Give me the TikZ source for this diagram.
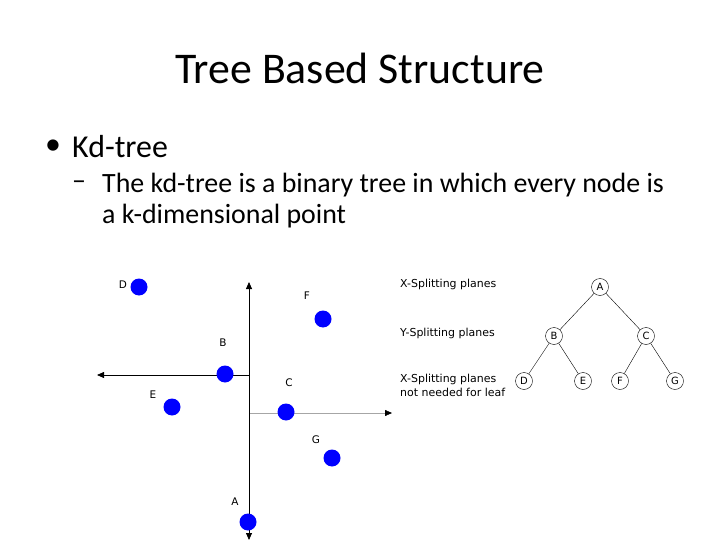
\documentclass[tikz,border=0pt]{standalone}
\usepackage{fontspec}
\setmainfont{Carlito}
\newfontfamily\djsans{DejaVu Sans}
\usetikzlibrary{arrows.meta}
\begin{document}
\begin{tikzpicture}[x=1bp,y=-1bp,
  pt/.style={circle,fill=blue,inner sep=0pt,minimum size=17bp},
  lbl/.style={font=\djsans\fontsize{10.5}{12}\selectfont,inner sep=0pt},
  tn/.style={circle,draw,inner sep=0pt,minimum size=17bp,font=\djsans\fontsize{10}{12}\selectfont},
  side/.style={font=\djsans\fontsize{11}{14}\selectfont,anchor=west,align=left,inner sep=0pt},
  ax/.style={thick,-{Triangle[length=7bp,width=6bp]}}]
\useasboundingbox (0,0) rectangle (720,540);
\node[font=\fontsize{44}{50}\selectfont] (title) at (360,68) {Tree Based Structure};
\node[anchor=west,inner sep=0pt,font=\fontsize{32}{36}\selectfont] (bul) at (45,147) {•};
\node[anchor=west,inner sep=0pt,font=\fontsize{32}{36}\selectfont] (b1) at (72,147) {Kd-tree};
\node[anchor=west,inner sep=0pt,font=\fontsize{28}{32}\selectfont] (dash) at (72,185) {–};
\node[anchor=west,inner sep=0pt,font=\fontsize{28}{32}\selectfont] (b2) at (102,185) {The kd-tree is a binary tree in which every node is};
\node[anchor=west,inner sep=0pt,font=\fontsize{28}{32}\selectfont] (b3) at (102,216) {a k-dimensional point};
% axes
\coordinate (top) at (249,282);
\coordinate (bot) at (249,540);
\coordinate (mid) at (249,375);
\coordinate (left) at (97,375);
\coordinate (cs) at (249,413);
\coordinate (right) at (392,413);
\draw[gray!70,-{Triangle[length=7bp,width=6bp,black]}] (cs) -- (right);
\draw[ax] (mid) -- (left);
\draw[ax,{Triangle[length=7bp,width=6bp]}-{Triangle[length=7bp,width=6bp]}] (bot) -- (top);
\node[pt] (D) at (139,287) {}; \node[lbl] at (123,285) {D};
\node[pt] (F) at (323,319) {}; \node[lbl] at (307,296) {F};
\node[pt] (B) at (225,374) {}; \node[lbl] at (223,343) {B};
\node[pt] (E) at (172,407) {}; \node[lbl] at (153,395) {E};
\node[pt] (C) at (286,412) {}; \node[lbl] at (289,383) {C};
\node[pt] (G) at (332,458) {}; \node[lbl] at (316,440) {G};
\node[pt] (A) at (248,522) {}; \node[lbl] at (235,502) {A};
% tree
\node[side] (s1) at (400,284) {X-Splitting planes};
\node[side] (s2) at (400,333) {Y-Splitting planes};
\node[side] (s3) at (400,385) {X-Splitting planes\\not needed for leaf};
\node[tn] (tA) at (600,287) {A};
\node[tn] (tB) at (554,336) {B};
\node[tn] (tC) at (646,336) {C};
\node[tn] (tD) at (524,381) {D};
\node[tn] (tE) at (583,381) {E};
\node[tn] (tF) at (620,381) {F};
\node[tn] (tG) at (675,381) {G};
\draw (tA)--(tB) (tA)--(tC) (tB)--(tD) (tB)--(tE) (tC)--(tF) (tC)--(tG);
\end{tikzpicture}
\end{document}
